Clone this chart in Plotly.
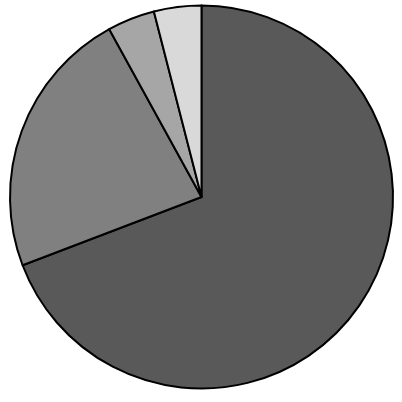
import plotly.graph_objects as go

# slice shares, clockwise from 12 o'clock
categories = ["A", "B", "C", "D"]
values = [69.2, 22.8, 4.0, 4.0]
colors = ["#595959", "#808080", "#a6a6a6", "#d9d9d9"]

fig = go.Figure(go.Pie(
    labels=categories,
    values=values,
    sort=False,
    direction="clockwise",
    rotation=0,
    textinfo="none",
    hoverinfo="label+percent",
    marker=dict(colors=colors, line=dict(color="black", width=2)),
    showlegend=False,
))

fig.update_layout(
    width=402,
    height=402,
    margin=dict(l=10, r=9, t=5, b=13),
    paper_bgcolor="white",
    plot_bgcolor="white",
)

# drop the browser's default body margin so the chart sits at the page corner
fig.write_html(
    "out.html",
    config={"displayModeBar": False},
    post_script="document.body.style.margin = '0';",
)
